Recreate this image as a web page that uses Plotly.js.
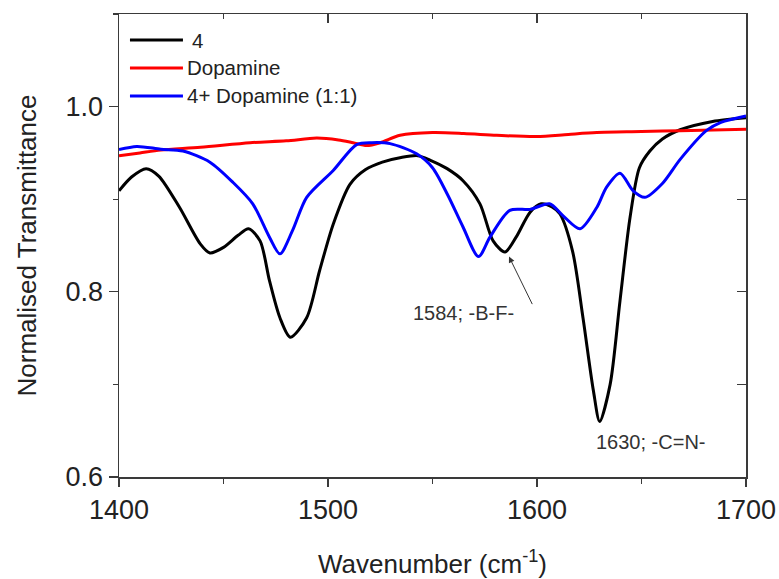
<!DOCTYPE html>
<html>
<head>
<meta charset="utf-8">
<script src="https://cdn.plot.ly/plotly-3.0.1.min.js"></script>
<style>html,body{margin:0;padding:0;background:#fff;}#chart{width:779px;height:579px;}</style>
</head>
<body>
<div id="chart"></div>
<script>
// Series "4"
const wn4 = [1400,1406,1413,1419,1429,1438.8,1443.5,1450,1457,1462,1467.5,1472,1477,1482,1489.8,1496,1502.5,1510.5,1518,1526,1535,1543,1549,1557,1564.6,1572.7,1579,1584.7,1590,1596.7,1602,1607,1611,1617,1622,1627,1630,1635,1639.7,1644.5,1649,1654,1660,1668.5,1684,1700];
const t4  = [0.909,0.924,0.933,0.925,0.891,0.852,0.842,0.848,0.861,0.868,0.855,0.812,0.772,0.751,0.772,0.823,0.873,0.916,0.932,0.940,0.945,0.947,0.942,0.933,0.920,0.895,0.855,0.843,0.859,0.886,0.895,0.892,0.884,0.844,0.772,0.693,0.660,0.700,0.790,0.880,0.934,0.952,0.965,0.975,0.984,0.988];
// Series "Dopamine"
const wnDop = [1400,1410,1420,1439,1462.7,1480,1494.6,1505,1512,1518.5,1525,1534.5,1550,1565,1580.7,1599.8,1615,1628.6,1650,1668.5,1700];
const tDop  = [0.947,0.950,0.953,0.956,0.961,0.963,0.966,0.964,0.961,0.958,0.961,0.969,0.972,0.971,0.969,0.9676,0.970,0.972,0.973,0.974,0.9755];
// Series "4+ Dopamine (1:1)"
const wnMix = [1400,1408.5,1420,1430.6,1443.5,1454.6,1464,1472,1477,1483,1489.8,1502.5,1513.7,1521,1529.7,1542.4,1550,1557.4,1564.6,1572,1577.5,1587,1596.7,1606,1612.5,1620.6,1628.6,1633.3,1639.7,1646,1651.6,1660,1668.5,1681,1688,1700];
const tMix  = [0.9535,0.957,0.954,0.952,0.940,0.918,0.895,0.859,0.841,0.866,0.902,0.931,0.959,0.961,0.960,0.949,0.934,0.904,0.870,0.838,0.859,0.888,0.889,0.895,0.882,0.868,0.891,0.913,0.928,0.909,0.902,0.917,0.943,0.974,0.983,0.990];

const seriesNames = ['4','Dopamine','4+ Dopamine (1:1)'];
const seriesColors = ['#000000','#ff0000','#0000ff'];

const xTicks = [1400,1500,1600,1700];
const yTicks = [0.6,0.8,1.0];
const yTickText = ['0.6','0.8','1.0'];

const FONT = 'Arial';
const AX = '#3a3a3a';

const traces = [
  {x: wn4, y: t4},
  {x: wnDop, y: tDop},
  {x: wnMix, y: tMix}
].map((d,i)=>({
  x: d.x, y: d.y, type:'scatter', mode:'lines', name: seriesNames[i],
  line:{color: seriesColors[i], width:3, shape:'spline', smoothing:0.8},
  showlegend:false, hoverinfo:'skip'
}));

// manual legend (paper coords)
const legY = [0.9438, 0.8834, 0.8229];
const shapes = legY.map((y,i)=>({
  type:'line', xref:'paper', yref:'paper', x0:0.0175, x1:0.102, y0:y, y1:y,
  line:{color: seriesColors[i], width:3}
}));
const annotations = legY.map((y,i)=>({
  xref:'paper', yref:'paper', x: i===0 ? 0.113 : 0.106, y: y, xanchor:'left', yanchor:'middle',
  text: seriesNames[i], showarrow:false, font:{family:FONT, size:20.5, color:'#222'}
}));

annotations.push({
  xref:'x', yref:'y', x:1565, y:0.777, text:'1584; -B-F-', showarrow:false,
  font:{family:FONT, size:20, color:'#333'}
});
annotations.push({
  xref:'x', yref:'y', x:1586.6, y:0.838, text:'', showarrow:true,
  ax:24, ay:49, arrowhead:2, arrowsize:1.2, arrowwidth:1, arrowcolor:'#333'
});
annotations.push({
  xref:'x', yref:'y', x:1654.6, y:0.638, text:'1630; -C=N-', showarrow:false,
  font:{family:FONT, size:20, color:'#333'}
});

const layout = {
  width:779, height:579,
  margin:{l:119, r:33, t:14, b:102},
  paper_bgcolor:'#fff', plot_bgcolor:'#fff',
  font:{family:FONT, color:'#222'},
  xaxis:{
    range:[1400,1700], tickmode:'array', tickvals:xTicks, ticktext:xTicks.map(String),
    ticks:'outside', ticklen:8, tickwidth:1.3, tickcolor:AX,
    minor:{dtick:50, tick0:1400, ticks:'outside', ticklen:5, tickwidth:1.3, tickcolor:AX},
    showline:true, linecolor:AX, linewidth:1.5, showgrid:false, zeroline:false,
    tickfont:{family:FONT, size:27, color:'#222'},
    title:{text:'Wavenumber (cm<sup>-1</sup>)', font:{family:FONT, size:26, color:'#222'}, standoff:33}
  },
  xaxis2:{
    range:[1400,1700], overlaying:'x', side:'top', matches:'x',
    tickmode:'array', tickvals:xTicks, showticklabels:false,
    ticks:'inside', ticklen:9, tickwidth:1.3, tickcolor:AX,
    minor:{dtick:50, tick0:1400, ticks:'inside', ticklen:5, tickwidth:1.3, tickcolor:AX},
    showline:true, linecolor:AX, linewidth:1.5, showgrid:false, zeroline:false
  },
  yaxis:{
    range:[0.6,1.1], tickmode:'array', tickvals:yTicks, ticktext:yTickText,
    ticks:'outside', ticklen:9, tickwidth:1.3, tickcolor:AX,
    minor:{dtick:0.1, tick0:0.6, ticks:'outside', ticklen:5, tickwidth:1.3, tickcolor:AX},
    showline:true, linecolor:AX, linewidth:1.5, showgrid:false, zeroline:false,
    tickfont:{family:FONT, size:27, color:'#222'},
    title:{text:'Normalised Transmittance', font:{family:FONT, size:26, color:'#222'}, standoff:21}
  },
  yaxis2:{
    range:[0.6,1.1], overlaying:'y', side:'right', matches:'y',
    tickmode:'array', tickvals:yTicks, showticklabels:false,
    ticks:'inside', ticklen:9, tickwidth:1.3, tickcolor:AX,
    minor:{dtick:0.1, tick0:0.6, ticks:'inside', ticklen:9, tickwidth:1.3, tickcolor:AX},
    showline:true, linecolor:AX, linewidth:1.5, showgrid:false, zeroline:false
  },
  shapes: shapes,
  annotations: annotations
};

// dummy invisible trace to activate top/right axes
traces.push({x:[1400,1700], y:[0.6,1.1], xaxis:'x2', yaxis:'y2', type:'scatter', mode:'markers',
  marker:{opacity:0}, showlegend:false, hoverinfo:'skip'});

Plotly.newPlot('chart', traces, layout, {staticPlot:true, displayModeBar:false});
</script>
</body>
</html>
